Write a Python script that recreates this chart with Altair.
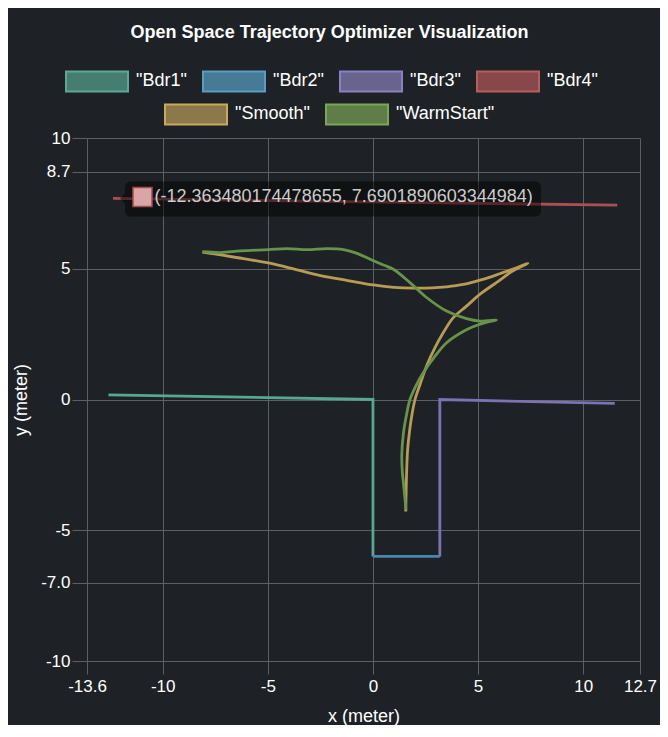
import altair as alt
import pandas as pd

FONT = "Liberation Sans"
BG = "#1e2226"
GRID = "#5d6063"

# ---- series names (labels as shown, with quotes) ----
series_names = ['"Bdr1"', '"Bdr2"', '"Bdr3"', '"Bdr4"', '"Smooth"', '"WarmStart"']
line_colors = ["#57a794", "#4b87ad", "#7c72b5", "#aa4f52", "#b99c54", "#67944b"]
bdr_names = series_names[:4]
traj_names = series_names[4:]
bdr_fill = ["#457e71", "#477a95", "#69648e", "#884849"]
bdr_stroke = ["#5aa997", "#5b9cc3", "#8a80c2", "#ba5c5d"]
traj_fill = ["#8b794b", "#5f7d48"]
traj_stroke = ["#c9a95b", "#79a756"]

# ---- data ----
bdr1_x = [-12.58, 0.0, 0.0]
bdr1_y = [0.18, 0.0, -6.0]
bdr2_x = [0.0, 3.18]
bdr2_y = [-6.0, -6.0]
bdr3_x = [3.18, 3.18, 11.5]
bdr3_y = [-6.0, 0.0, -0.15]
bdr4_x = [-12.363480174478655, 11.62]
bdr4_y = [7.6901890603344984, 7.43]

smooth_x = [-8.11, -6.5, -4.98, -3.7, -2.50, -1.2, 0.02, 1.0, 1.92, 2.8, 3.50, 4.3,
            4.92, 5.5, 6.03, 6.7, 7.37, 6.66, 5.87, 5.08, 4.45, 3.82, 3.34, 2.95,
            2.55, 2.25, 2.0, 1.85, 1.73, 1.65, 1.61, 1.58, 1.56]
smooth_y = [5.64, 5.43, 5.22, 4.98, 4.74, 4.55, 4.38, 4.29, 4.26, 4.27, 4.31, 4.40,
            4.53, 4.66, 4.81, 5.0, 5.21, 4.92, 4.47, 4.02, 3.57, 3.13, 2.55, 1.98,
            1.28, 0.6, 0.0, -0.6, -1.28, -1.9, -2.55, -3.4, -4.28]

warm_x = [-8.11, -7.24, -6.29, -4.98, -4.08, -3.13, -2.18, -1.40, -0.76, -0.13, 0.5,
          0.97, 1.76, 2.55, 3.50, 4.45, 5.08, 5.87, 5.3, 4.76, 4.29, 3.50, 2.9, 2.39,
          2.0, 1.76, 1.58, 1.45, 1.37, 1.40, 1.45, 1.57]
warm_y = [5.65, 5.62, 5.68, 5.73, 5.77, 5.73, 5.77, 5.73, 5.59, 5.36, 5.14,
          4.98, 4.47, 3.90, 3.38, 3.09, 3.00, 3.04, 2.93, 2.78, 2.60, 2.17, 1.60, 1.02,
          0.45, 0.0, -0.65, -1.28, -2.17, -2.8, -3.19, -4.21]

tooltip_text = "(-12.363480174478655, 7.6901890603344984)"

x_ticks = [-13.6, -10, -5, 0, 5, 10, 12.7]
x_tick_labels = ["-13.6", "-10", "-5", "0", "5", "10", "12.7"]
y_ticks = [-10, -7, -5, 0, 5, 8.7, 10]
y_tick_labels = ["-10", "-7.0", "-5", "0", "5", "8.7", "10"]


def rows(name, xs, ys):
    return [{"series": name, "i": k, "x": a, "y": b} for k, (a, b) in enumerate(zip(xs, ys))]


bdr_df = pd.DataFrame(rows(bdr_names[0], bdr1_x, bdr1_y) + rows(bdr_names[1], bdr2_x, bdr2_y)
                      + rows(bdr_names[2], bdr3_x, bdr3_y) + rows(bdr_names[3], bdr4_x, bdr4_y))
traj_df = pd.DataFrame(rows(traj_names[0], smooth_x, smooth_y) + rows(traj_names[1], warm_x, warm_y))
tip_df = pd.DataFrame({"x": [bdr4_x[0]], "y": [bdr4_y[0]], "label": [tooltip_text]})


def label_expr(vals, labels):
    return ("[" + ",".join("'" + s + "'" for s in labels) + "][indexof(["
            + ",".join(str(v) for v in vals) + "], datum.value)]")


x_scale = alt.Scale(domain=[x_ticks[0], x_ticks[-1]], nice=False, zero=False)
y_scale = alt.Scale(domain=[y_ticks[0], y_ticks[-1]], nice=False, zero=False)

common_axis = dict(grid=True, gridColor=GRID, gridWidth=1, tickColor=GRID, tickWidth=1,
                   domain=False, labelFont=FONT, labelFontSize=17, labelColor="#ffffff",
                   labelFlush=False, labelOverlap=False, titleFont=FONT, titleFontSize=18,
                   titleFontWeight="normal", titleColor="#ffffff")
x_axis = alt.Axis(values=x_ticks, labelExpr=label_expr(x_ticks, x_tick_labels), title="x (meter)",
                  tickSize=13, labelPadding=4, titlePadding=13, **common_axis)
y_axis = alt.Axis(values=y_ticks, labelExpr=label_expr(y_ticks, y_tick_labels), title="y (meter)",
                  tickSize=15, labelPadding=2, titlePadding=10, **common_axis)

X = alt.X("x:Q", scale=x_scale, axis=x_axis)
Y = alt.Y("y:Q", scale=y_scale, axis=y_axis)
color_scale = alt.Scale(domain=series_names, range=line_colors)

SWATCH = "M-1,-0.3226H1V0.3226H-1Z"
SW_SIZE = 3844


def make_legend(lx, ly):
    return alt.Legend(orient="none", legendX=lx, legendY=ly, direction="horizontal", title=None,
                      symbolType=SWATCH, symbolSize=SW_SIZE, symbolStrokeWidth=2,
                      symbolFillColor="#000000", symbolStrokeColor="#000000",
                      labelFont=FONT, labelFontSize=18, labelColor="#ffffff", labelOffset=7,
                      columnPadding=12, padding=0, symbolOffset=0, labelLimit=300)


bdr_lines = alt.Chart(bdr_df).mark_line(strokeWidth=2.8).encode(
    x=X, y=Y, color=alt.Color("series:N", scale=color_scale, legend=None), order="i:Q")
traj_lines = alt.Chart(traj_df).mark_line(strokeWidth=2.8, interpolate="catmull-rom").encode(
    x=X, y=Y, color=alt.Color("series:N", scale=color_scale, legend=None), order="i:Q")

leg_a_def = make_legend(-22, -89)
leg_b_def = make_legend(77, -56)
leg_a = alt.Chart(bdr_df).transform_filter("false").mark_point(
    shape=SWATCH, size=SW_SIZE, filled=True, strokeWidth=2, opacity=1).encode(
    fill=alt.Fill("series:N", scale=alt.Scale(domain=bdr_names, range=bdr_fill), legend=leg_a_def),
    stroke=alt.Stroke("series:N", scale=alt.Scale(domain=bdr_names, range=bdr_stroke), legend=leg_a_def))
leg_b = alt.Chart(traj_df).transform_filter("false").mark_point(
    shape=SWATCH, size=SW_SIZE, filled=True, strokeWidth=2, opacity=1).encode(
    fill=alt.Fill("series:N", scale=alt.Scale(domain=traj_names, range=traj_fill), legend=leg_b_def),
    stroke=alt.Stroke("series:N", scale=alt.Scale(domain=traj_names, range=traj_stroke), legend=leg_b_def))

tip_box = alt.Chart(tip_df).mark_rect(
    color="#000000", opacity=0.5, cornerRadius=6,
    xOffset=12, x2Offset=428, yOffset=-17, y2Offset=18).encode(
    x=X, x2="x", y=Y, y2="y")
tip_arrow = alt.Chart(tip_df).mark_point(
    shape="M1,-2L-1,0L1,2Z", size=25, filled=True, color="#000000", opacity=0.5, xOffset=9.5).encode(
    x=X, y=Y)
tip_square = alt.Chart(tip_df).mark_square(
    size=361, filled=True, color="#d9a5a5", stroke="#a34c4c", strokeWidth=1.5,
    opacity=1, xOffset=29.5, yOffset=-1.5).encode(x=X, y=Y)
tip_text = alt.Chart(tip_df).mark_text(
    align="left", baseline="middle", dx=41.5, dy=-1, fontSize=18, font=FONT, color="#cccccc").encode(
    x=X, y=Y, text="label:N")

chart = alt.layer(
    alt.layer(bdr_lines, leg_a),
    alt.layer(traj_lines, leg_b),
    tip_box, tip_arrow, tip_square, tip_text,
).resolve_scale(fill="independent", stroke="independent").properties(
    width=553, height=523,
    title=alt.TitleParams(text="Open Space Trajectory Optimizer Visualization", font=FONT,
                          fontSize=18, fontWeight="bold", color="#ffffff", anchor="middle",
                          dx=-34, dy=-3),
    padding={"left": 79, "top": 130, "right": 20, "bottom": 64},
    autosize=alt.AutoSizeParams(type="none"),
    background=BG,
).configure_view(strokeWidth=0)

chart.save("out.html", embed_options={"renderer": "svg", "actions": False})
